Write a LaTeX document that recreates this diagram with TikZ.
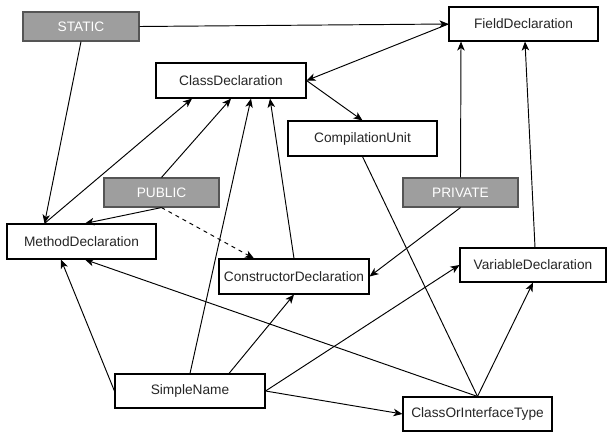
\documentclass[tikz,border=0pt]{standalone}
\usepackage{fontspec}
\setmainfont{Liberation Sans}
\usetikzlibrary{arrows.meta}
\definecolor{modgray}{HTML}{9E9E9E}
\definecolor{modborder}{HTML}{555555}
\begin{document}
\begin{tikzpicture}[x=1pt,y=-1pt,
  box/.style={draw=black,fill=white,line width=1.1pt,minimum height=34pt,inner sep=0pt,font=\fontsize{13.7}{16}\selectfont,text=black!85},
  modbox/.style={draw=modborder,fill=modgray,line width=1.1pt,minimum width=115pt,minimum height=29pt,inner sep=0pt,font=\fontsize{13.7}{16}\selectfont,text=white},
  conn/.style={line width=0.95pt,-{Stealth[length=9pt,width=7.5pt,inset=2.5pt]}},
  plain/.style={line width=0.95pt},
  dconn/.style={conn,dash pattern=on 4pt off 4pt}
]
\useasboundingbox (0,0) rectangle (607,434);
\node[modbox,minimum width=116pt] (static) at (81,26.5) {STATIC};
\node[box,minimum width=149pt] (field) at (523.5,24) {FieldDeclaration};
\node[box,minimum width=150pt,minimum height=35pt] (class) at (231,80.5) {ClassDeclaration};
\node[box,minimum width=149pt,minimum height=35pt] (comp) at (362.5,138.5) {CompilationUnit};
\node[modbox] (public) at (161.5,192.5) {PUBLIC};
\node[modbox] (private) at (460.5,192.5) {PRIVATE};
\node[box,minimum width=149pt,minimum height=35pt] (method) at (81.5,241.5) {MethodDeclaration};
\node[box,minimum width=150pt,minimum height=35pt] (ctor) at (294,276.5) {ConstructorDeclaration};
\node[box,minimum width=146pt] (var) at (533,265) {VariableDeclaration};
\node[box,minimum width=150pt] (simple) at (190,391) {SimpleName};
\node[box,minimum width=149pt] (coit) at (477.5,414) {ClassOrInterfaceType};

\draw[conn] (static.east) -- (field.west);
\draw[conn] (static.south) -- ([xshift=-37pt]method.north);
\draw[conn] ([xshift=-37pt]method.north) -- ([xshift=-39pt]class.south);
\draw[conn] (public.north) -- (class.south);
\draw[conn] (simple.north) -- ([xshift=20pt]class.south);
\draw[conn] (ctor.north) -- ([xshift=39pt]class.south);
\draw[conn] (public.south) -- ([xshift=3.5pt]method.north);
\draw[dconn] (public.south) -- ([xshift=-40pt]ctor.north);
\draw[conn] (field.west) -- (class.east);
\draw[conn] (class.east) -- (comp.north);
\draw[plain] (comp.south) -- (coit.north);
\draw[conn] (private.north) -- ([xshift=-62.5pt]field.south);
\draw[conn] (private.south) -- (ctor.east);
\draw[conn] ([xshift=2pt]var.north) -- ([xshift=1.5pt]field.south);
\draw[conn] (coit.north) -- (var.south);
\draw[conn] (coit.north) -- ([xshift=3.5pt]method.south);
\draw[conn] (simple.west) -- ([xshift=-20.5pt]method.south);
\draw[conn] ([xshift=39pt]simple.north) -- (ctor.south);
\draw[conn] (simple.east) -- (var.west);
\draw[conn] (simple.east) -- (coit.west);
\end{tikzpicture}
\end{document}
